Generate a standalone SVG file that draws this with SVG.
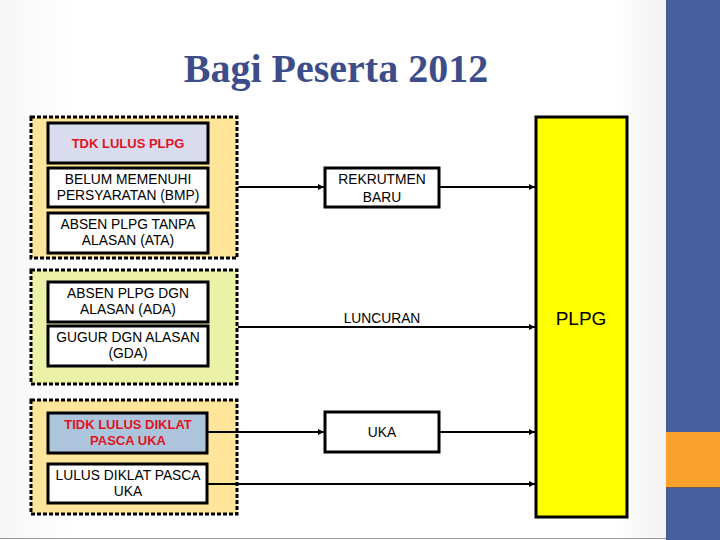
<svg xmlns="http://www.w3.org/2000/svg" width="720" height="540" viewBox="0 0 720 540">
<defs>
<linearGradient id="bg" x1="0" y1="0" x2="1" y2="0">
<stop offset="0" stop-color="#f6f6f6"/>
<stop offset="0.1" stop-color="#ffffff"/>
<stop offset="0.85" stop-color="#ffffff"/>
<stop offset="1" stop-color="#e6e6e6"/>
</linearGradient>
<marker id="ar" viewBox="0 0 6 6" refX="6" refY="3" markerWidth="6" markerHeight="6" markerUnits="userSpaceOnUse" orient="auto">
<path d="M0,0 L6,3 L0,6 z" fill="#000"/>
</marker>
<style>
.grp{stroke:#000;stroke-width:3;stroke-dasharray:4 2}
.box{fill:#fff;stroke:#000;stroke-width:3}
.t{font-family:"Liberation Sans",Arial,sans-serif;font-size:13.8px;fill:#000;text-anchor:middle}
.r{font-family:"Liberation Sans",Arial,sans-serif;font-size:13px;font-weight:bold;fill:#e0141e;text-anchor:middle}
.ln{stroke:#000;stroke-width:2;fill:none}
</style>
</defs>
<rect x="0" y="0" width="720" height="540" fill="url(#bg)"/>
<line x1="0" y1="538.5" x2="666" y2="538.5" stroke="#9a9a9a" stroke-width="1"/>
<rect x="666" y="0" width="54" height="540" fill="#465e9b"/>
<rect x="666" y="432" width="54" height="55" fill="#f9a12a"/>
<line x1="666" y1="487.5" x2="720" y2="487.5" stroke="#6b5a55" stroke-width="1"/>

<text x="336" y="82" text-anchor="middle" font-family="'Liberation Serif','DejaVu Serif',serif" font-weight="bold" font-size="40" fill="#3d4d8a">Bagi Peserta 2012</text>

<g id="group-tdk">
<rect class="grp" x="31" y="117" width="206" height="141" fill="#ffe599"/>
</g>
<g id="group-ada">
<rect class="grp" x="31" y="270" width="206" height="114" fill="#ebf1a6"/>
</g>
<g id="group-uka">
<rect class="grp" x="31" y="400" width="206" height="114" fill="#ffe599"/>
</g>

<g id="tdk-lulus-plpg">
<rect class="box" x="48" y="123" width="160" height="40" style="fill:#d9dcee"/>
<text class="r" x="128" y="148">TDK LULUS PLPG</text>
</g>
<g id="bmp">
<rect class="box" x="48" y="168" width="160" height="39"/>
<text class="t" x="128" y="184">BELUM MEMENUHI</text>
<text class="t" x="128" y="200">PERSYARATAN (BMP)</text>
</g>
<g id="ata">
<rect class="box" x="48" y="213" width="160" height="40"/>
<text class="t" x="128" y="229">ABSEN PLPG TANPA</text>
<text class="t" x="128" y="245">ALASAN (ATA)</text>
</g>
<g id="ada">
<rect class="box" x="48" y="282" width="160" height="40"/>
<text class="t" x="128" y="298">ABSEN PLPG DGN</text>
<text class="t" x="128" y="314">ALASAN (ADA)</text>
</g>
<g id="gda">
<rect class="box" x="48" y="326" width="160" height="40"/>
<text class="t" x="128" y="342">GUGUR DGN ALASAN</text>
<text class="t" x="128" y="358">(GDA)</text>
</g>
<g id="tidk-lulus-diklat">
<rect class="box" x="48" y="413" width="159" height="40" style="fill:#adc5dc"/>
<text class="r" x="128" y="429">TIDK LULUS DIKLAT</text>
<text class="r" x="128" y="445">PASCA UKA</text>
</g>
<g id="lulus-diklat">
<rect class="box" x="48" y="464" width="159" height="39"/>
<text class="t" x="128" y="480">LULUS DIKLAT PASCA</text>
<text class="t" x="128" y="496">UKA</text>
</g>
<g id="rekrutmen">
<rect class="box" x="325" y="168" width="114" height="39"/>
<text class="t" x="382" y="184">REKRUTMEN</text>
<text class="t" x="382" y="202">BARU</text>
</g>
<g id="uka">
<rect class="box" x="325" y="412" width="114" height="40"/>
<text class="t" x="382" y="437">UKA</text>
</g>
<g id="plpg">
<rect x="536" y="117" width="91" height="400" fill="#ffff00" stroke="#000" stroke-width="3"/>
<text x="581" y="325" text-anchor="middle" font-family="'Liberation Sans',Arial,sans-serif" font-size="19" fill="#000">PLPG</text>
</g>

<g id="connectors">
<line class="ln" x1="238" y1="187" x2="324" y2="187" marker-end="url(#ar)"/>
<line class="ln" x1="440" y1="187" x2="535" y2="187" marker-end="url(#ar)"/>
<line class="ln" x1="238" y1="327" x2="535" y2="327" marker-end="url(#ar)"/>
<text class="t" x="382" y="323">LUNCURAN</text>
<line class="ln" x1="208" y1="432" x2="324" y2="432" marker-end="url(#ar)"/>
<line class="ln" x1="440" y1="432" x2="535" y2="432" marker-end="url(#ar)"/>
<line class="ln" x1="208" y1="484" x2="535" y2="484" marker-end="url(#ar)"/>
</g>
</svg>
